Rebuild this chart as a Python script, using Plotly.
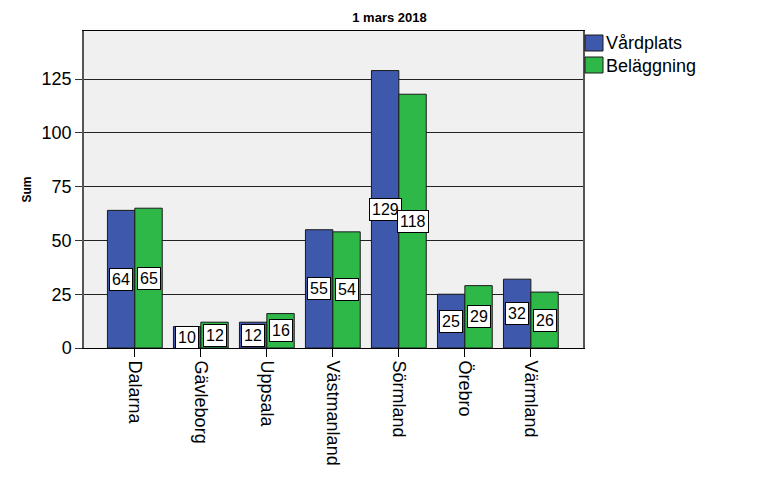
import plotly.graph_objects as go

regions = ["Dalarna", "Gävleborg", "Uppsala", "Västmanland", "Sörmland", "Örebro", "Värmland"]
vardplats = [64, 10, 12, 55, 129, 25, 32]
belaggning = [65, 12, 16, 54, 118, 29, 26]
series_names = ["Vårdplats", "Beläggning"]
y_ticks = [0, 25, 50, 75, 100, 125]

FONT = "Liberation Sans, Arial, sans-serif"
BLUE = "#3E58AC"
GREEN = "#2EB848"
colors = [BLUE, GREEN]

# plot area in pixels (for legend placement)
PL, PR, PT, PB = 84, 583, 31, 348
def px(xp):
    return (xp - PL) / (PR - PL)
def py(yp):
    return (PB - yp) / (PB - PT)

fig = go.Figure()
for name, vals, col in zip(series_names, (vardplats, belaggning), colors):
    fig.add_trace(go.Bar(x=regions, y=vals, name=name, showlegend=False,
                         marker=dict(color=col, line=dict(color="#1a1a1a", width=1))))

for vals, shift in ((vardplats, -13.7), (belaggning, 13.7)):
    for r, v in zip(regions, vals):
        fig.add_annotation(x=r, y=v / 2, text=str(v), showarrow=False, xshift=shift,
                           font=dict(family=FONT, size=16, color="black"),
                           bgcolor="white", bordercolor="black", borderwidth=1, borderpad=2)

# custom legend
for i, (name, col) in enumerate(zip(series_names, colors)):
    top = 35 + i * 22
    fig.add_shape(type="rect", xref="paper", yref="paper",
                  x0=px(585), x1=px(603), y0=py(top), y1=py(top + 16),
                  fillcolor=col, line=dict(color="#1a1a1a", width=1))
    fig.add_annotation(xref="paper", yref="paper", x=px(604), y=py(top + 8.5),
                       xanchor="left", yanchor="middle", showarrow=False, text=name,
                       font=dict(family=FONT, size=18, color="black"))

fig.update_layout(
    width=779, height=504,
    margin=dict(l=PL, r=779 - PR, t=PT, b=504 - PB),
    paper_bgcolor="white", plot_bgcolor="#F0F0F0",
    barmode="group", bargap=0.17, bargroupgap=0,
    font=dict(family=FONT, size=18, color="black"),
    title=dict(text="<b>1 mars 2018</b>", x=0.5, xanchor="center", y=0.965, yanchor="middle",
               font=dict(family=FONT, size=13, color="black")),
    showlegend=False,
)
fig.update_xaxes(range=[-0.77, 6.79], tickangle=90, ticks="outside", ticklen=8, tickcolor="black",
                 showline=True, linecolor="black", linewidth=1, mirror=True,
                 tickfont=dict(size=18), showgrid=False)
fig.update_yaxes(range=[0, 147.4], tickvals=y_ticks, ticks="outside", ticklen=7, tickcolor="#333",
                 showline=True, linecolor="#555", linewidth=1.5, mirror=True,
                 showgrid=True, gridcolor="#222", gridwidth=1, zeroline=False,
                 tickfont=dict(size=18),
                 title=dict(text="<b>Sum</b>", font=dict(size=12), standoff=7))

fig.write_html("out.html")
